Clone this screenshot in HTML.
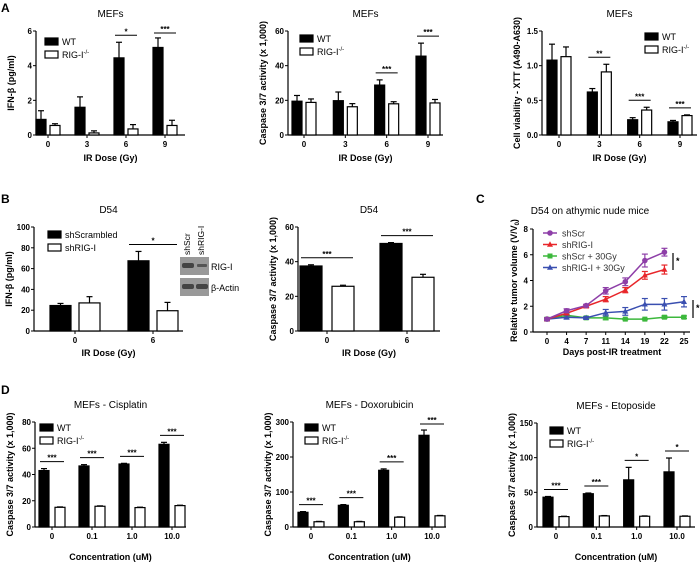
<!DOCTYPE html>
<html><head><meta charset="utf-8"><style>
body{margin:0;background:#fff}
svg{display:block;font-family:"Liberation Sans",sans-serif}
</style></head><body>
<svg id="fig" width="700" height="567" viewBox="0 0 700 567" xmlns="http://www.w3.org/2000/svg">
<g font-weight="bold" font-size="12">
<text x="1" y="12">A</text>
<text x="1" y="203">B</text>
<text x="476" y="203">C</text>
<text x="1" y="394">D</text>
</g>
<g>
<rect x="180" y="257" width="29" height="18" fill="#999"/>
<rect x="180" y="278" width="29" height="18" fill="#999"/>
<rect x="182" y="263" width="12" height="5" fill="#444" rx="2"/>
<rect x="197" y="264" width="10" height="3" fill="#555" rx="1"/>
<rect x="182" y="284" width="12" height="5" fill="#444" rx="2"/>
<rect x="196" y="284" width="12" height="5" fill="#444" rx="2"/>
<text x="211" y="270" font-size="9">RIG-I</text>
<text x="211" y="291" font-size="9">β-Actin</text>
<text transform="translate(190,255) rotate(-90)" font-size="8.5">shScr</text>
<text transform="translate(204,255) rotate(-90)" font-size="8.5">shRIG-I</text>
</g>
</svg>
<script>
// ---- data ----
const doseCats = ["0","3","6","9"];
const a1WT = [0.9,1.6,4.45,5.05], a1WTe = [0.5,0.6,0.9,0.55];
const a1KO = [0.55,0.12,0.35,0.55], a1KOe = [0.1,0.12,0.25,0.3];
const a1Sig = ["","","*","***"];
const a1Ticks = [0,2,4,6];
const a2WT = [19.5,19.8,28.8,45.5], a2WTe = [3.3,5,3,7.5];
const a2KO = [18.8,16.3,18,18.5], a2KOe = [2,1.8,1.2,2];
const a2Sig = ["","","***","***"];
const a2Ticks = [0,20,40,60];
const a3WT = [1.08,0.62,0.22,0.19], a3WTe = [0.23,0.05,0.03,0.02];
const a3KO = [1.13,0.91,0.36,0.28], a3KOe = [0.14,0.11,0.04,0.01];
const a3Sig = ["","**","***","***"];
const a3Ticks = [0,0.5,1.0,1.5];
const bCats = ["0","6"];
const b1WT = [24.5,67.5], b1WTe = [2,9];
const b1KO = [27,19.5], b1KOe = [6,8];
const b1Sig = ["","*"];
const b1Ticks = [0,20,40,60,80,100];
const b2WT = [37.5,50.5], b2WTe = [0.7,0.5];
const b2KO = [25.8,31], b2KOe = [0.6,1.7];
const b2Sig = ["***","***"];
const b2Ticks = [0,20,40,60];
const concCats = ["0","0.1","1.0","10.0"];
const d1WT = [43,46.5,48,63], d1WTe = [1.5,1,0.5,1.5];
const d1KO = [15,15.8,14.8,16.3], d1KOe = [0.3,0.3,0.3,0.3];
const d1Sig = ["***","***","***","***"];
const d1Ticks = [0,20,40,60,80];
const d2WT = [42,62,162,262], d2WTe = [2,2,4,15];
const d2KO = [15,15,28,32], d2KOe = [1,1,1,1];
const d2Sig = ["***","***","***","***"];
const d2Ticks = [0,100,200,300];
const d3WT = [43,48,68,79.5], d3WTe = [1,1,18,20];
const d3KO = [15,16,15.5,15.5], d3KOe = [0.5,0.5,0.5,0.5];
const d3Sig = ["***","***","*","*"];
const d3Ticks = [0,50,100,150];
const cDays = ["0","4","7","11","14","19","22","25"];
const cTicks = [0,2,4,6,8];
const cScr = [1.0,1.65,2.05,3.2,3.9,5.55,6.2];
const cScrE = [0.1,0.15,0.1,0.25,0.3,0.5,0.3];
const cRig = [1.0,1.45,2.0,2.55,3.25,4.4,4.85];
const cRigE = [0.1,0.1,0.1,0.2,0.2,0.3,0.35];
const cScrIR = [1.0,1.3,1.1,1.1,1.0,1.0,1.15,1.15];
const cScrIRE = [0.05,0.1,0.05,0.15,0.05,0.05,0.1,0.1];
const cRigIR = [1.0,1.15,1.1,1.5,1.6,2.15,2.15,2.35];
const cRigIRE = [0.1,0.15,0.1,0.25,0.3,0.45,0.45,0.4];

const NS="http://www.w3.org/2000/svg";
const svg=document.getElementById('fig');
function mk(tag,attrs,parent){const e=document.createElementNS(NS,tag);for(const k in attrs)e.setAttribute(k,attrs[k]);(parent||svg).appendChild(e);return e;}
function txt(s,attrs,parent){const e=mk('text',attrs,parent);e.textContent=s;return e;}

function barChart(c){
  const g=mk('g',{});
  
  
  const ymax=c.ticks[c.ticks.length-1];
  const Y=v=>c.y0-(v/ymax)*(c.y0-c.yTop);
  const n=c.cats.length;
  const X=i=>c.g0+i*(c.g1-c.g0)/(n-1);
  const t=txt(c.title,{x:(c.ax+c.axEnd)/2,y:c.yTop-14,'font-size':10,'text-anchor':'middle'},g);
  
  
  mk('line',{x1:c.ax,y1:c.yTop,x2:c.ax,y2:c.y0,stroke:'#000','stroke-width':1.2},g);
  mk('line',{x1:c.ax,y1:c.y0,x2:c.axEnd,y2:c.y0,stroke:'#000','stroke-width':1.2},g);
  c.ticks.forEach(v=>{
    mk('line',{x1:c.ax-3,y1:Y(v),x2:c.ax,y2:Y(v),stroke:'#000'},g);
    const l=txt(c.fmt?c.fmt(v):String(v),{x:c.ax-4,y:Y(v)+3,'font-size':8,'font-weight':'bold','text-anchor':'end'},g);
    
    
  });
  const yt=txt(c.ytitle,{transform:`translate(${c.ax-22},${(c.yTop+c.y0)/2}) rotate(-90)`,'font-size':9,'font-weight':'bold','text-anchor':'middle'},g);
  
  
  const xt=txt(c.xtitle,{x:(c.ax+c.axEnd)/2,y:c.xtY,'font-size':9,'font-weight':'bold','text-anchor':'middle'},g);
  
  
  const bw=c.bw, gap=c.gap;
  c.cats.forEach((cat,i)=>{
    const cx=X(i);
    mk('line',{x1:cx,y1:c.y0,x2:cx,y2:c.y0+3,stroke:'#000'},g);
    const xl=txt(cat,{x:cx,y:c.y0+12,'font-size':8,'font-weight':'bold','text-anchor':'middle'},g);
    
    
    [[c.wt,c.wte,'#000',cx-gap/2-bw,'bar-wt'],[c.ko,c.koe,'#fff',cx+gap/2,'bar-ko']].forEach(([vals,errs,fill,x,nm])=>{
      const v=vals[i], e=errs[i];
      const top=Y(v+e), mid=x+bw/2;
      mk('line',{x1:mid,y1:Y(v),x2:mid,y2:top,stroke:'#000','stroke-width':1.2},g);
      mk('line',{x1:mid-3,y1:top,x2:mid+3,y2:top,stroke:'#000','stroke-width':1.2},g);
      const r=mk('rect',{x:x,y:Y(v),width:bw,height:c.y0-Y(v),fill:fill,stroke:'#000','stroke-width':1.2},g);
      
      
    });
    if(c.sig[i]){
      const top=Math.min(Y(c.wt[i]+c.wte[i]),Y(c.ko[i]+c.koe[i]));
      const ly=Math.max(top-7,c.yTop+2);
      mk('line',{x1:cx-gap/2-bw+1,y1:ly,x2:cx+gap/2+bw-1,y2:ly,stroke:'#000','stroke-width':1},g);
      const s=txt(c.sig[i],{x:cx,y:ly-1,'font-size':8,'font-weight':'bold','text-anchor':'middle'},g);
      
      
    }
  });
  c.legend.forEach((lab,j)=>{
    const ly=c.legY+j*13;
    const r=mk('rect',{x:c.legX,y:ly,width:13,height:7,fill:j?'#fff':'#000',stroke:'#000','stroke-width':1.2},g);
    
    
    const l=mk('text',{x:c.legX+17,y:ly+7,'font-size':9},g);
    
    
    if(lab==='KO'){l.textContent='RIG-I';const s=mk('tspan',{dy:-4,'font-size':6},l);s.textContent='-/-';}
    else l.textContent=lab;
  });
}
const doseX='IR Dose (Gy)', concX='Concentration (uM)', casp='Caspase 3/7 activity (x 1,000)';
barChart({name:'chart-a1-ifn',title:'MEFs',cats:doseCats,wt:a1WT,wte:a1WTe,ko:a1KO,koe:a1KOe,sig:a1Sig,ticks:a1Ticks,ax:36,axEnd:185,yTop:31,y0:135,g0:48,g1:165,bw:10,gap:4,ytitle:'IFN-β (pg/ml)',xtitle:doseX,xtY:161,legend:['WT','KO'],legX:45,legY:38});
barChart({name:'chart-a2-caspase',title:'MEFs',cats:doseCats,wt:a2WT,wte:a2WTe,ko:a2KO,koe:a2KOe,sig:a2Sig,ticks:a2Ticks,ax:288,axEnd:443,yTop:31,y0:135,g0:304,g1:428,bw:10,gap:4,ytitle:casp,xtitle:doseX,xtY:161,legend:['WT','KO'],legX:300,legY:35});
barChart({name:'chart-a3-viability',title:'MEFs',cats:doseCats,wt:a3WT,wte:a3WTe,ko:a3KO,koe:a3KOe,sig:a3Sig,ticks:a3Ticks,fmt:v=>v.toFixed(1),ax:542,axEnd:697,yTop:31,y0:135,g0:559,g1:680,bw:10,gap:4,ytitle:'Cell viability - XTT (A490-A630)',xtitle:doseX,xtY:161,legend:['WT','KO'],legX:645,legY:33});
barChart({name:'chart-b1-ifn',title:'D54',cats:bCats,wt:b1WT,wte:b1WTe,ko:b1KO,koe:b1KOe,sig:b1Sig,ticks:b1Ticks,ax:34,axEnd:183,yTop:227,y0:331,g0:75,g1:153,bw:21,gap:8,ytitle:'IFN-β (pg/ml)',xtitle:doseX,xtY:356,legend:['shScrambled','shRIG-I'],legX:48,legY:231});
barChart({name:'chart-b2-caspase',title:'D54',cats:bCats,wt:b2WT,wte:b2WTe,ko:b2KO,koe:b2KOe,sig:b2Sig,ticks:b2Ticks,ax:298,axEnd:440,yTop:227,y0:331,g0:327,g1:407,bw:22,gap:10,ytitle:casp,xtitle:doseX,xtY:356,legend:[],legX:0,legY:0});
barChart({name:'chart-d1-cisplatin',title:'MEFs - Cisplatin',cats:concCats,wt:d1WT,wte:d1WTe,ko:d1KO,koe:d1KOe,sig:d1Sig,ticks:d1Ticks,ax:35,axEnd:186,yTop:422,y0:527,g0:52,g1:172,bw:10,gap:6,ytitle:casp,xtitle:concX,xtY:560,legend:['WT','KO'],legX:40,legY:424});
barChart({name:'chart-d2-doxorubicin',title:'MEFs - Doxorubicin',cats:concCats,wt:d2WT,wte:d2WTe,ko:d2KO,koe:d2KOe,sig:d2Sig,ticks:d2Ticks,ax:293,axEnd:446,yTop:422,y0:527,g0:311,g1:432,bw:10,gap:6,ytitle:casp,xtitle:concX,xtY:560,legend:['WT','KO'],legX:305,legY:424});
barChart({name:'chart-d3-etoposide',title:'MEFs - Etoposide',cats:concCats,wt:d3WT,wte:d3WTe,ko:d3KO,koe:d3KOe,sig:d3Sig,ticks:d3Ticks,ax:537,axEnd:695,yTop:423,y0:527,g0:556,g1:677,bw:10,gap:6,ytitle:casp,xtitle:concX,xtY:560,legend:['WT','KO'],legX:550,legY:427});

// ---- panel C line chart ----
(function(){
  const g=mk('g',{});
  
  
  const ax=533, axEnd=690, yTop=229, y0=332, x0=547, x1=684;
  const Y=v=>y0-v/8*(y0-yTop);
  const X=i=>x0+i*(x1-x0)/(cDays.length-1);
  const t=txt('D54 on athymic nude mice',{x:590,y:214,'font-size':10,'text-anchor':'middle'},g);
  
  
  mk('line',{x1:ax,y1:yTop,x2:ax,y2:y0,stroke:'#000','stroke-width':1.2},g);
  mk('line',{x1:ax,y1:y0,x2:axEnd,y2:y0,stroke:'#000','stroke-width':1.2},g);
  cTicks.forEach(v=>{
    mk('line',{x1:ax-3,y1:Y(v),x2:ax,y2:Y(v),stroke:'#000'},g);
    const l=txt(String(v),{x:ax-5,y:Y(v)+3,'font-size':8,'font-weight':'bold','text-anchor':'end'},g);
    
    
  });
  cDays.forEach((d,i)=>{
    mk('line',{x1:X(i),y1:y0,x2:X(i),y2:y0+3,stroke:'#000'},g);
    const l=txt(d,{x:X(i),y:y0+12,'font-size':8,'font-weight':'bold','text-anchor':'middle'},g);
    
    
  });
  const yt=mk('text',{transform:`translate(${ax-16},${(yTop+y0)/2}) rotate(-90)`,'font-size':9,'font-weight':'bold','text-anchor':'middle'},g);
  yt.textContent='Relative tumor volume (V/V';
  const sub=mk('tspan',{'font-size':6,dy:2},yt);sub.textContent='0';
  const cl=mk('tspan',{dy:-2},yt);cl.textContent=')';
  
  
  const xt=txt('Days post-IR treatment',{x:612,y:355,'font-size':9,'font-weight':'bold','text-anchor':'middle'},g);
  
  
  const series=[[cScrIR,cScrIRE,'#3cb83c','s','shScr + 30Gy','series-shscr-30gy'],[cRigIR,cRigIRE,'#3a4fb0','t','shRIG-I + 30Gy','series-shrig-30gy'],[cRig,cRigE,'#e8262a','t','shRIG-I','series-shrig'],[cScr,cScrE,'#8e3fa8','c','shScr','series-shscr']];
  function marker(x,y,col,shape,p){
    if(shape==='c')return mk('circle',{cx:x,cy:y,r:2.8,fill:col},p);
    if(shape==='s')return mk('rect',{x:x-2.5,y:y-2.5,width:5,height:5,fill:col},p);
    return mk('polygon',{points:`${x},${y-3.2} ${x-3},${y+2.2} ${x+3},${y+2.2}`,fill:col},p);
  }
  series.forEach(([vals,errs,col,shape,lab,nm])=>{
    const sg=mk('g',{},g);
    
    
    mk('polyline',{points:vals.map((v,i)=>`${X(i)},${Y(v)}`).join(' '),fill:'none',stroke:col,'stroke-width':1.5},sg);
    vals.forEach((v,i)=>{
      const e=errs[i];
      mk('line',{x1:X(i),y1:Y(v-e),x2:X(i),y2:Y(v+e),stroke:col,'stroke-width':1.2},sg);
      mk('line',{x1:X(i)-3,y1:Y(v-e),x2:X(i)+3,y2:Y(v-e),stroke:col,'stroke-width':1.2},sg);
      mk('line',{x1:X(i)-3,y1:Y(v+e),x2:X(i)+3,y2:Y(v+e),stroke:col,'stroke-width':1.2},sg);
      const m=marker(X(i),Y(v),col,shape,sg);
      
      
    });
  });
  const legOrder=[series[3],series[2],series[0],series[1]];
  legOrder.forEach((s,j)=>{
    const ly=233+j*11.5;
    mk('line',{x1:543,y1:ly,x2:557,y2:ly,stroke:s[2],'stroke-width':1.5},g);
    marker(550,ly,s[2],s[3],g);
    const l=txt(s[4],{x:562,y:ly+3.5,'font-size':9,fill:'#333'},g);
    
    
  });
  mk('line',{x1:673,y1:253,x2:673,y2:270,stroke:'#000','stroke-width':1.2},g);
  const s1=txt('*',{x:676,y:264,'font-size':9,'font-weight':'bold'},g);
  
  
  mk('line',{x1:693,y1:300,x2:693,y2:318,stroke:'#000','stroke-width':1.2},g);
  const s2=txt('*',{x:696,y:311,'font-size':9,'font-weight':'bold'},g);
  
  
})();
</script>
</body></html>
